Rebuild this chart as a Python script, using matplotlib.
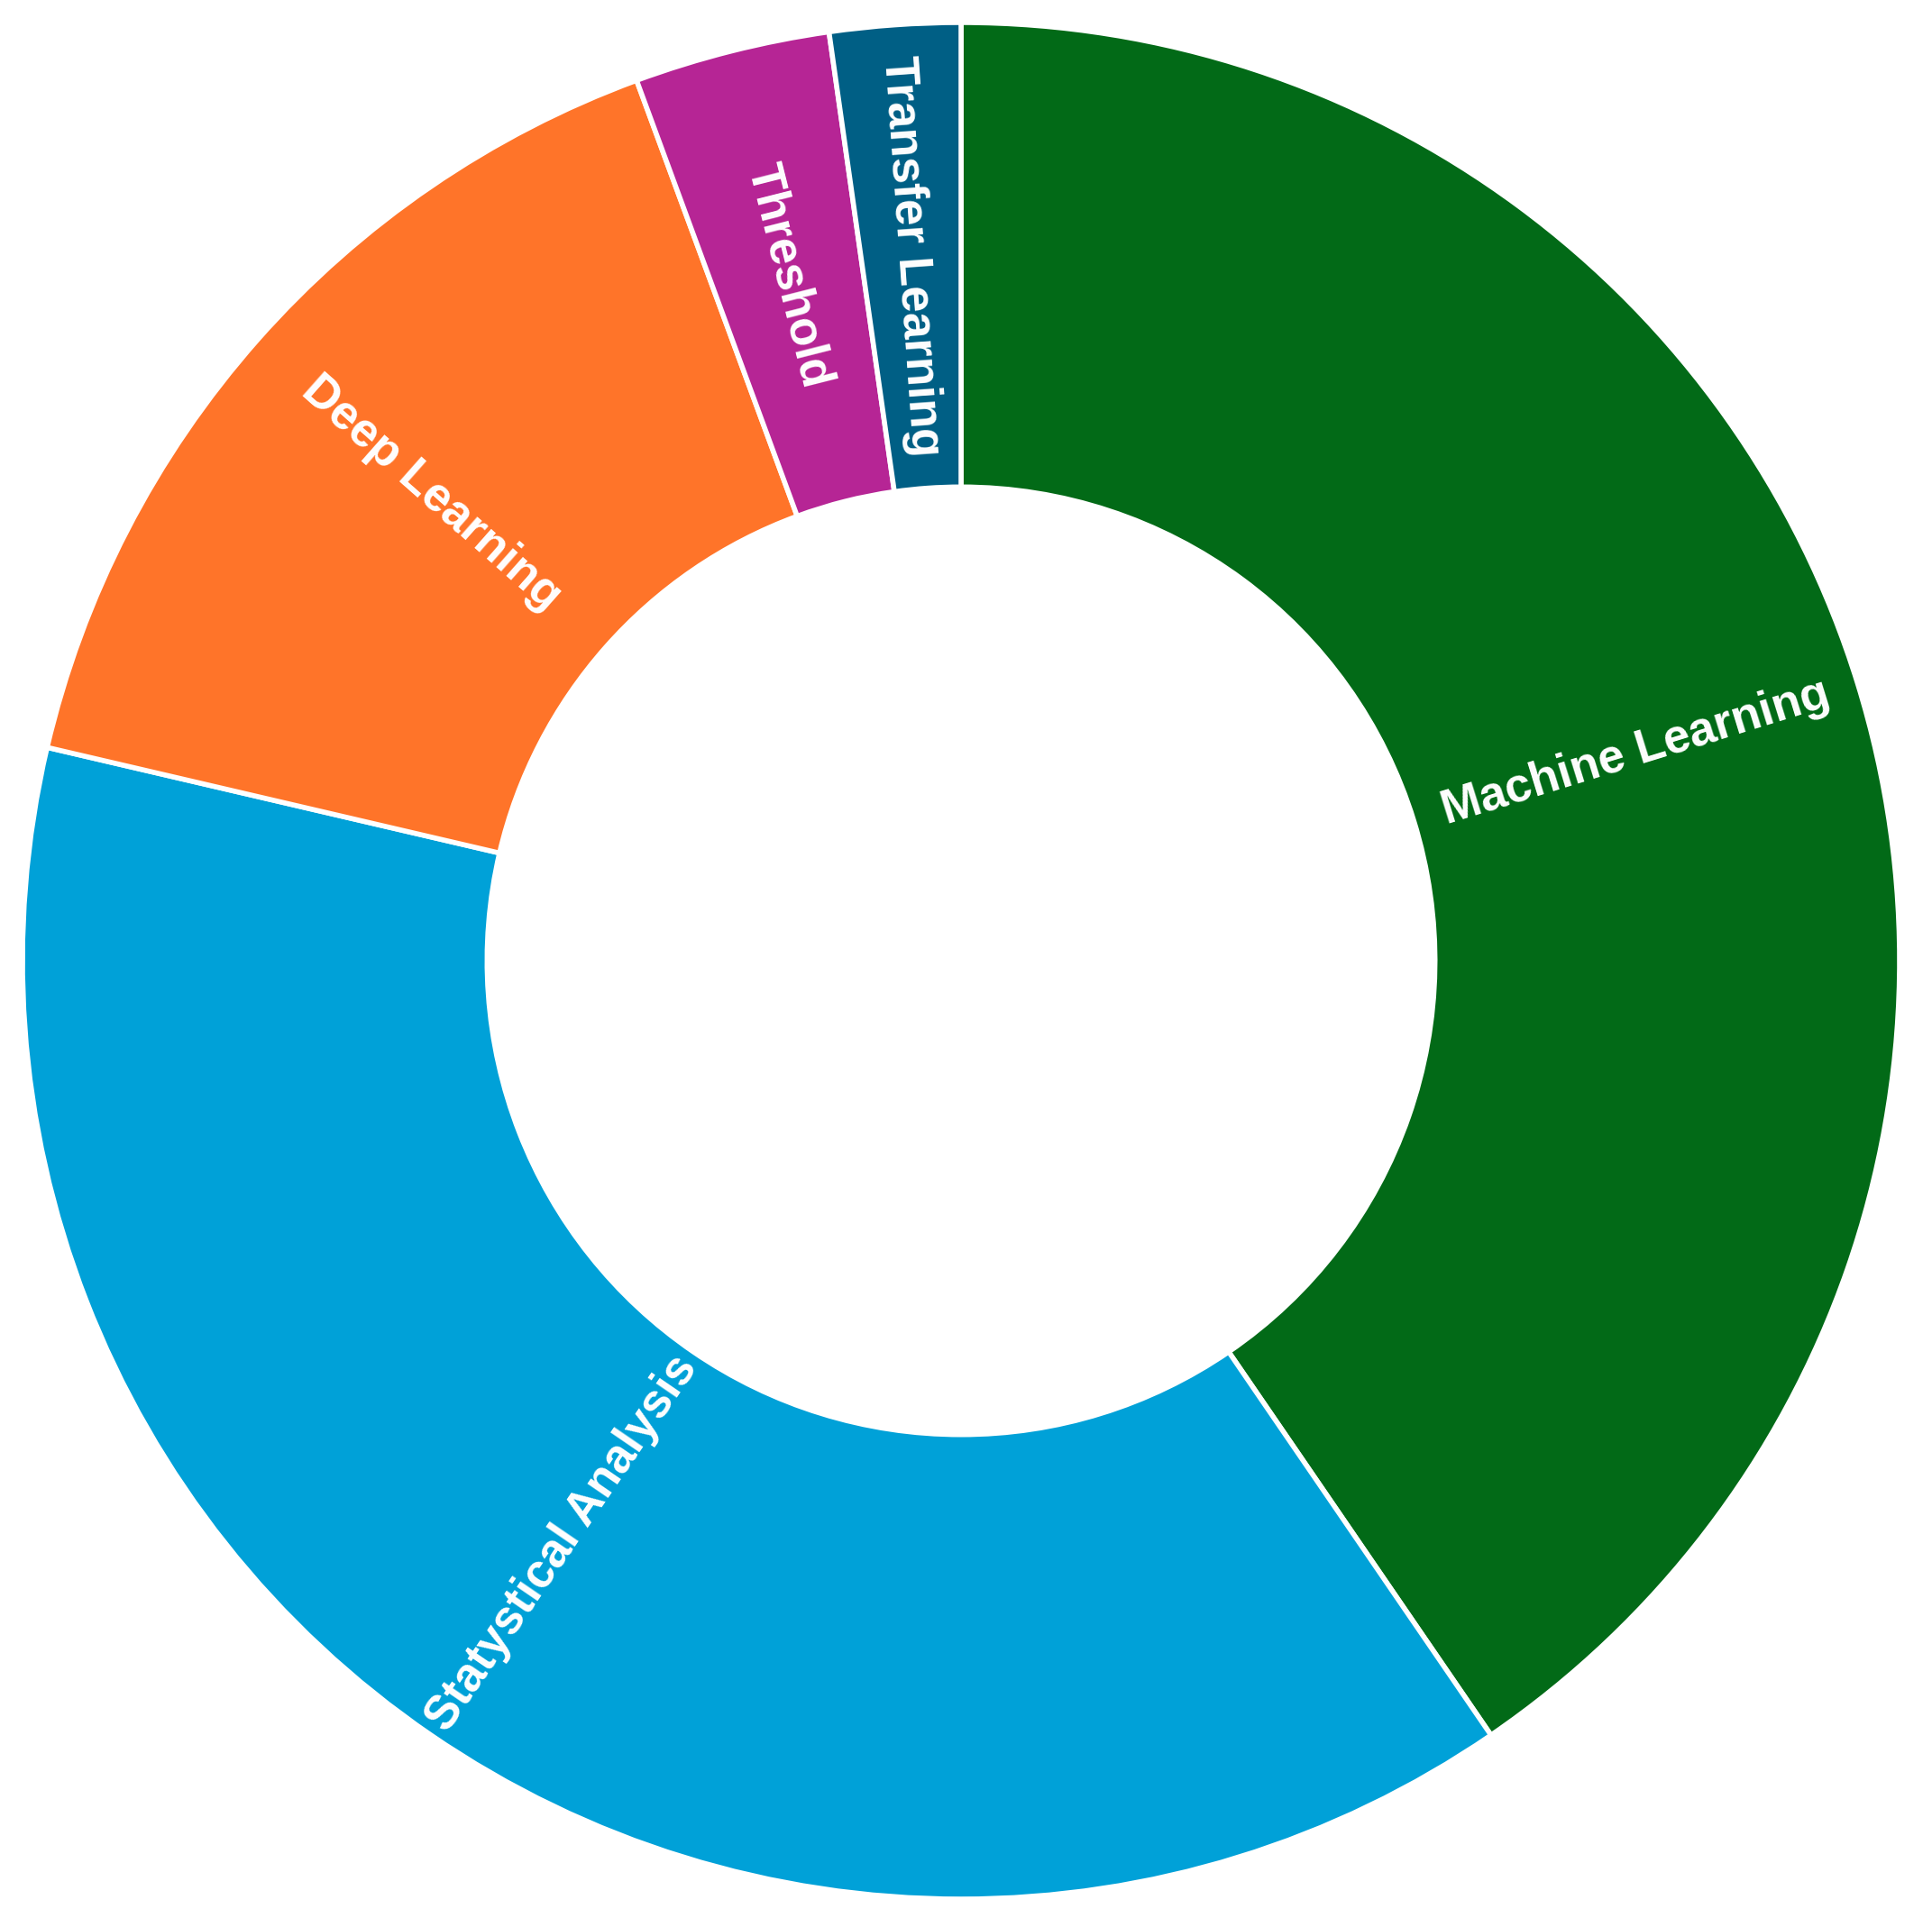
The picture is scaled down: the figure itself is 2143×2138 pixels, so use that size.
import numpy as np
import matplotlib.pyplot as plt

labels = ['Machine Learning', 'Statystical Analysis', 'Deep Learning', 'Threshold', 'Transfer Learning']
values = [36, 34, 14, 3, 2]
colors = ['#026A17', '#00A1D8', '#FF7429', '#B62595', '#005F85']

plt.rcParams['font.family'] = ['Liberation Sans', 'DejaVu Sans']

fig = plt.figure(figsize=(21.43, 21.38), dpi=100)
ax = fig.add_axes([25 / 2143, 31 / 2138, 2082 / 2143, 2082 / 2138])

ring_width = 0.495
wedges, _ = ax.pie(values, colors=colors, startangle=90, counterclock=False, radius=1.0,
                   wedgeprops=dict(width=ring_width, edgecolor='white', linewidth=4))

# labels sit in the middle of the ring, rotated along the radius
r_mid = 1.0 - ring_width / 2
for w, lab in zip(wedges, labels):
    ang = (w.theta1 + w.theta2) / 2
    x = r_mid * np.cos(np.radians(ang))
    y = r_mid * np.sin(np.radians(ang))
    rot = ang
    if 90 < ang % 360 < 270:
        rot = ang - 180
    ax.text(x, y, lab, rotation=rot, rotation_mode='anchor', ha='center', va='center',
            color='white', fontsize=38, fontweight='bold')

ax.set_xlim(-1, 1)
ax.set_ylim(-1, 1)
ax.axis('off')

fig.savefig('out.png', dpi=100, facecolor='white')
